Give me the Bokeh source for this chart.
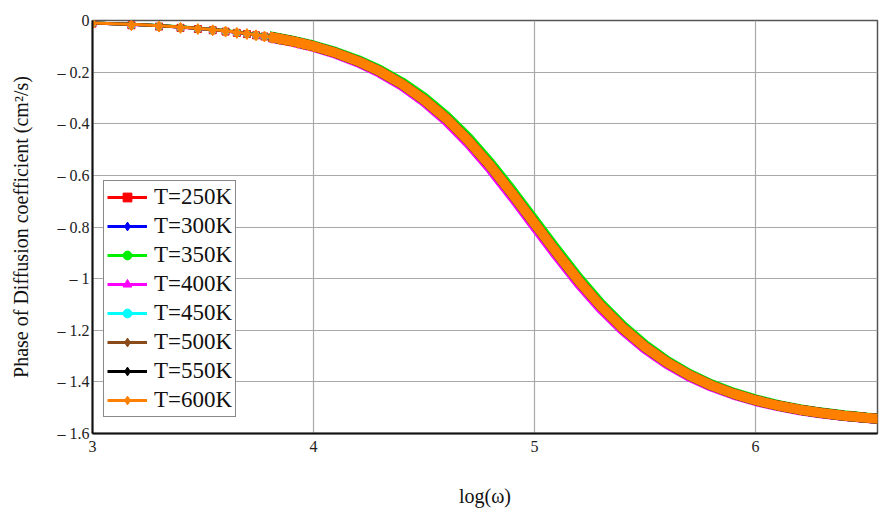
from bokeh.plotting import figure
from bokeh.models import Legend, LegendItem, FixedTicker, Range1d
from bokeh.embed import file_html
from bokeh.resources import INLINE

# ---- data ----
log_w = [3.0, 3.1, 3.2, 3.3, 3.4, 3.5, 3.6, 3.7, 3.8, 3.9,
         4.0, 4.1, 4.2, 4.3, 4.4, 4.5, 4.6, 4.7, 4.8, 4.9,
         5.0, 5.1, 5.2, 5.3, 5.4, 5.5, 5.6, 5.7, 5.8, 5.9,
         6.0, 6.1, 6.2, 6.3, 6.4, 6.5, 6.6]

phase_base = [-0.0100, -0.0126, -0.0158, -0.0200, -0.0251, -0.0316, -0.0398, -0.0501, -0.0630, -0.0793,
              -0.0997, -0.1252, -0.1572, -0.1969, -0.2461, -0.3063, -0.3790, -0.4646, -0.5628, -0.6717,
              -0.7854, -0.8991, -1.0080, -1.1062, -1.1918, -1.2645, -1.3247, -1.3739, -1.4136, -1.4456,
              -1.4711, -1.4915, -1.5078, -1.5207, -1.5310, -1.5392, -1.5457]

phase_upper = [-0.0098, -0.0123, -0.0154, -0.0195, -0.0244, -0.0307, -0.0386, -0.0486, -0.0611, -0.0769,
               -0.0967, -0.1215, -0.1526, -0.1911, -0.2392, -0.2981, -0.3694, -0.4538, -0.5510, -0.6593,
               -0.7728, -0.8869, -0.9966, -1.0960, -1.1828, -1.2567, -1.3181, -1.3683, -1.4089, -1.4417,
               -1.4679, -1.4888, -1.5056, -1.5189, -1.5295, -1.5380, -1.5447]

phase_lower = [-0.0102, -0.0129, -0.0162, -0.0205, -0.0258, -0.0325, -0.0410, -0.0516, -0.0649, -0.0817,
               -0.1027, -0.1290, -0.1618, -0.2027, -0.2530, -0.3145, -0.3886, -0.4754, -0.5746, -0.6841,
               -0.7980, -0.9113, -1.0194, -1.1164, -1.2008, -1.2723, -1.3313, -1.3795, -1.4183, -1.4495,
               -1.4743, -1.4942, -1.5100, -1.5225, -1.5325, -1.5404, -1.5467]

# sparse sample points (visible as separate markers at low frequency)
marker_log_w = [3.000, 3.176, 3.301, 3.398, 3.477, 3.544, 3.602, 3.653, 3.699, 3.740,
                3.778, 3.813, 3.845, 3.875, 3.903, 3.929, 3.954, 3.978, 4.000]
marker_phase = [-0.0120, -0.0185, -0.0235, -0.0285, -0.0330, -0.0380, -0.0430, -0.0480, -0.0525, -0.0575,
                -0.0620, -0.0670, -0.0720, -0.0770, -0.0815, -0.0865, -0.0915, -0.0960, -0.1010]

series_labels = ["T=250K", "T=300K", "T=350K", "T=400K", "T=450K", "T=500K", "T=550K", "T=600K"]
series_colors = ["#ff0000", "#0000ff", "#00ee00", "#ff00ff", "#00ffff", "#8b4a1a", "#000000", "#ff8000"]
series_markers = ["square", "diamond", "circle", "triangle", "circle", "diamond", "diamond", "diamond"]
series_values = [phase_base, phase_base, phase_upper, phase_lower, phase_base, phase_base, phase_base, phase_base]

x_ticks = [3, 4, 5, 6]
y_ticks = [0, -0.2, -0.4, -0.6, -0.8, -1.0, -1.2, -1.4, -1.6]
y_tick_labels = ["0", "\u2013 0.2", "\u2013 0.4", "\u2013 0.6", "\u2013 0.8", "\u2013 1",
                 "\u2013 1.2", "\u2013 1.4", "\u2013 1.6"]

SERIF = "Liberation Serif"

p = figure(width=880, height=509, output_backend="svg", toolbar_location=None,
           x_range=Range1d(3, 6.552), y_range=Range1d(-1.6, 0),
           min_border_left=92, min_border_right=3, min_border_top=20, min_border_bottom=73)
p.background_fill_color = "white"
p.border_fill_color = "white"
p.outline_line_color = "#555555"
p.outline_line_width = 1.5

p.xaxis.ticker = FixedTicker(ticks=x_ticks)
p.yaxis.ticker = FixedTicker(ticks=y_ticks)
p.yaxis.major_label_overrides = {t: l for t, l in zip(y_ticks, y_tick_labels)}
for ax in (p.xaxis[0], p.yaxis[0]):
    ax.axis_line_color = "#111111"
    ax.axis_line_width = 2
    ax.major_tick_line_color = None
    ax.minor_tick_line_color = None
    ax.major_tick_out = 0
    ax.major_tick_in = 0
    ax.minor_tick_out = 0
    ax.major_label_text_font = SERIF
    ax.major_label_text_font_size = "16px"
    ax.major_label_text_color = "#222222"
    ax.axis_label_text_font = SERIF
    ax.axis_label_text_font_size = "20px"
    ax.axis_label_text_font_style = "normal"
    ax.axis_label_text_color = "#111111"
p.xaxis.axis_label = "log(\u03c9)"
p.yaxis.axis_label = "Phase of Diffusion coefficient (cm\u00b2/s)"
p.xaxis.major_label_standoff = 7
p.yaxis.major_label_standoff = 3
p.xaxis.axis_label_standoff = 30
p.yaxis.axis_label_standoff = 23

p.grid.grid_line_color = "#a8a8a8"
p.grid.grid_line_width = 1.2

band_start = 8
items = []
for lab, col, mk, vals in zip(series_labels, series_colors, series_markers, series_values):
    thin = p.line(log_w, vals, line_color=col, line_width=3)
    p.line(log_w[band_start:], vals[band_start:], line_color=col, line_width=10)
    size = 11 if col == "#ff8000" else 7
    sc = p.scatter(marker_log_w, marker_phase, marker=mk, size=size,
                   fill_color=col, line_color=col)
    items.append(LegendItem(label=lab, renderers=[thin, sc]))

legend = Legend(items=items, location=(11, 16))
legend.label_text_font = SERIF
legend.label_text_font_size = "23px"
legend.label_text_color = "#111111"
legend.glyph_width = 40
legend.glyph_height = 22
legend.label_height = 22
legend.label_standoff = 7
legend.spacing = 3
legend.padding = 3
legend.margin = 0
legend.border_line_color = "#111111"
legend.border_line_width = 1.2
legend.background_fill_alpha = 1.0
p.add_layout(legend, "center")

open("out.html", "w").write(file_html(p, INLINE))
